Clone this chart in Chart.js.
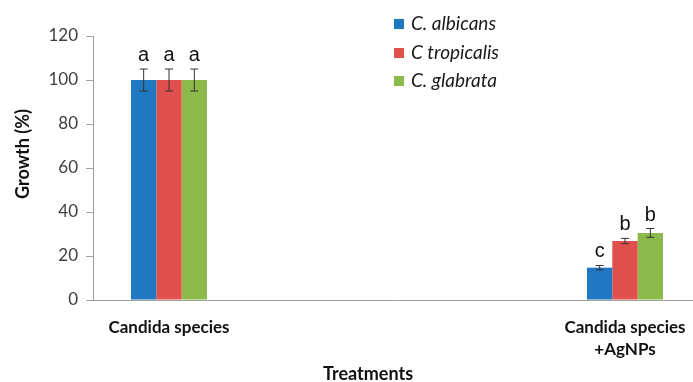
<!DOCTYPE html>
<html>
<head>
<meta charset="utf-8">
<script src="https://cdn.jsdelivr.net/npm/chart.js@4/dist/chart.umd.min.js"></script>
<style>
html, body { margin: 0; padding: 0; overflow: hidden; background: #fff; }
#wrap { width: 710px; height: 382px; }
</style>
</head>
<body>
<div id="wrap"><canvas id="growthChart" width="710" height="382"></canvas></div>
<script>
// categories (two empty slots keep the Excel spacing between the groups)
const categories = ["Candida species", "", "", ["Candida species", "+AgNPs"]];
const seriesNames = ["C. albicans", "C tropicalis", "C. glabrata"];
const seriesColors = ["#1F78C1", "#E0504C", "#8CBA4A"];

const albicans = [100, null, null, 14.7];
const tropicalis = [100, null, null, 26.8];
const glabrata = [100, null, null, 30.5];

const albicansErr = [5, null, null, 1];
const tropicalisErr = [5, null, null, 1.2];
const glabrataErr = [5, null, null, 2];

const albicansLetters = ["a", null, null, "c"];
const tropicalisLetters = ["a", null, null, "b"];
const glabrataLetters = ["a", null, null, "b"];

const yTicks = [0, 20, 40, 60, 80, 100, 120];

const values = [albicans, tropicalis, glabrata];
const errors = [albicansErr, tropicalisErr, glabrataErr];
const letters = [albicansLetters, tropicalisLetters, glabrataLetters];

// error bars + significance letters
const errorBarsPlugin = {
    id: "errorBars",
    afterDatasetsDraw(chart) {
        const ctx = chart.ctx;
        const yScale = chart.scales.y;
        ctx.save();
        for (let i = 0; i < values.length; i++) {
            const meta = chart.getDatasetMeta(i);
            for (let j = 0; j < values[i].length; j++) {
                const v = values[i][j];
                if (v === null) continue;
                const e = errors[i][j];
                const x = meta.data[j].x;
                const yTop = yScale.getPixelForValue(v + e);
                const yBot = yScale.getPixelForValue(v - e);
                ctx.strokeStyle = "#333";
                ctx.lineWidth = 1;
                ctx.beginPath();
                ctx.moveTo(x, yTop);
                ctx.lineTo(x, yBot);
                ctx.moveTo(x - 4, yTop);
                ctx.lineTo(x + 4, yTop);
                ctx.moveTo(x - 4, yBot);
                ctx.lineTo(x + 4, yBot);
                ctx.stroke();
                ctx.fillStyle = "#111";
                ctx.font = "20px 'Liberation Sans', Arial, sans-serif";
                ctx.textAlign = "center";
                ctx.textBaseline = "alphabetic";
                ctx.fillText(letters[i][j], x, yTop - 8);
            }
        }
        ctx.restore();
    },
};

// axis titles and legend drawn where Excel put them
const extrasPlugin = {
    id: "extras",
    afterDraw(chart) {
        const ctx = chart.ctx;
        ctx.save();
        ctx.fillStyle = "#111";
        ctx.font = "bold 18px Lato, sans-serif";
        ctx.textAlign = "center";
        ctx.textBaseline = "middle";
        ctx.fillText("Treatments", 368, 374);
        ctx.translate(23, 154);
        ctx.rotate(-Math.PI / 2);
        ctx.fillText("Growth (%)", 0, 0);
        ctx.restore();

        ctx.save();
        const rows = [24, 53, 81];
        ctx.font = "italic 19px Lato, sans-serif";
        ctx.textAlign = "left";
        ctx.textBaseline = "middle";
        for (let i = 0; i < seriesNames.length; i++) {
            ctx.fillStyle = seriesColors[i];
            ctx.fillRect(394, rows[i] - 5, 10, 10);
            ctx.fillStyle = "#1a1a1a";
            ctx.fillText(seriesNames[i], 411, rows[i]);
        }
        ctx.restore();
    },
};

new Chart(document.getElementById("growthChart"), {
    type: "bar",
    data: {
        labels: categories,
        datasets: seriesNames.map((name, i) => ({
            label: name,
            data: values[i],
            backgroundColor: seriesColors[i],
            borderWidth: 0,
            categoryPercentage: 0.5,
            barPercentage: 1,
        })),
    },
    options: {
        responsive: false,
        animation: false,
        layout: { padding: { top: 36, right: 9, left: 0, bottom: 0 } },
        plugins: {
            legend: { display: false },
            tooltip: { enabled: false },
        },
        scales: {
            x: {
                grid: { display: false, drawTicks: false },
                border: { display: true, color: "#a0a0a0", width: 1 },
                ticks: {
                    padding: 16,
                    color: "#111",
                    font: { family: "Lato", size: 17, weight: "bold", lineHeight: 1.3 },
                    maxRotation: 0,
                    autoSkip: false,
                },
                afterFit(scale) {
                    scale.height = 82;
                },
            },
            y: {
                min: 0,
                max: 120,
                afterBuildTicks(scale) {
                    scale.ticks = yTicks.map((v) => ({ value: v }));
                },
                grid: { drawOnChartArea: false, tickLength: 7, color: "#a0a0a0" },
                border: { display: true, color: "#a0a0a0", width: 1 },
                ticks: {
                    padding: 8,
                    color: "#404040",
                    font: { family: "Lato", size: 17 },
                },
                afterFit(scale) {
                    scale.width = 93;
                },
            },
        },
    },
    plugins: [errorBarsPlugin, extrasPlugin],
});
</script>
</body>
</html>
